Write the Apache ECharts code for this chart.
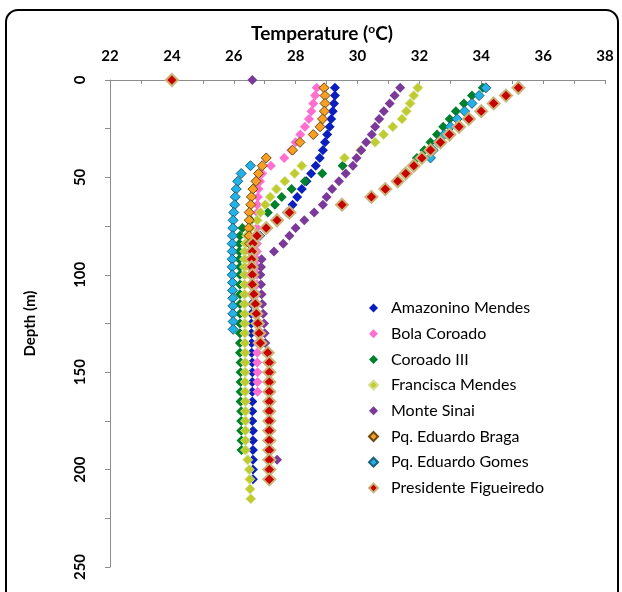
<!DOCTYPE html>
<html>
<head>
<meta charset="utf-8">
<script src="https://cdn.jsdelivr.net/npm/echarts@6/dist/echarts.min.js"></script>
<style>
  html, body { margin: 0; padding: 0; background: #fff; }
  #chart { width: 622px; height: 592px; }
</style>
</head>
<body>
<div id="chart"></div>
<script>
// Temperature profiles: each entry is [depth (m), temperature (°C)]
const amazoninoMendes = [
  [4,29.27],[8,29.27],[12,29.24],[16,29.2],[20,29.15],[24,29.1],[28,29.02],[32,28.95],[36,28.88],
  [40,28.78],[44,28.65],[48,28.5],[52,28.35],[56,28.2],[60,28.05],[64,27.9],[68,27.72],[72,27.4],
  [76,27.1],[80,26.85],[84,26.7],[88,26.65],[92,26.62],[96,26.6],[100,26.6],[105,26.6],[110,26.58],
  [115,26.58],[120,26.57],[125,26.57],[130,26.57],[135,26.58],[140,26.58],[145,26.6],[150,26.6],
  [155,26.6],[160,26.6],[165,26.6],[170,26.6],[175,26.6],[180,26.62],[185,26.62],[190,26.62],
  [195,26.62],[200,26.62],[205,26.62]
];
const bolaCoroado = [
  [4,28.68],[8,28.63],[12,28.57],[16,28.51],[20,28.43],[24,28.3],[28,28.15],[32,28.0],[36,27.86],
  [40,27.63],[44,27.2],[48,26.92],[52,26.85],[56,26.8],[60,26.78],[64,26.76],[68,26.76],[72,26.75],
  [76,26.75],[80,26.75],[84,26.75],[88,26.75],[92,26.75],[96,26.75],[100,26.75],[105,26.75],
  [110,26.75],[115,26.75],[120,26.75],[125,26.75],[130,26.76],[135,26.76],[140,26.76],[145,26.76],
  [150,26.77],[155,26.77],[160,26.77]
];
const coroadoIII = [
  [4,34.05],[8,33.7],[12,33.44],[16,33.18],[20,32.98],[24,32.77],[28,32.57],[32,32.36],[36,32.16],
  [40,31.92],[44,29.52],[48,28.86],[52,28.3],[56,27.87],[60,27.55],[64,27.33],[68,27.1],[72,26.55],
  [76,26.28],[80,26.2],[84,26.18],[88,26.18],[92,26.18],[96,26.2],[100,26.2],[105,26.2],[110,26.2],
  [115,26.2],[120,26.2],[125,26.2],[130,26.2],[135,26.2],[140,26.2],[145,26.22],[150,26.22],
  [155,26.22],[160,26.22],[165,26.22],[170,26.24],[175,26.24],[180,26.24],[185,26.25],[190,26.25]
];
const franciscaMendes = [
  [4,31.95],[8,31.82],[12,31.7],[16,31.58],[20,31.44],[24,31.14],[28,30.84],[32,30.57],[36,30.1],
  [40,29.58],[44,28.2],[48,27.97],[52,27.65],[56,27.38],[60,27.18],[64,27.02],[68,26.86],[72,26.76],
  [76,26.55],[80,26.42],[84,26.38],[88,26.36],[92,26.35],[96,26.35],[100,26.35],[105,26.35],
  [110,26.35],[115,26.35],[120,26.36],[125,26.36],[130,26.36],[135,26.36],[140,26.37],[145,26.37],
  [150,26.37],[155,26.37],[160,26.37],[165,26.38],[170,26.38],[175,26.38],[180,26.38],[185,26.38],
  [190,26.38],[195,26.45],[200,26.5],[205,26.52],[210,26.53],[215,26.55]
];
const monteSinai = [
  [0,26.6],[4,31.38],[8,31.2],[12,31.04],[16,30.85],[20,30.7],[24,30.57],[28,30.46],[32,30.28],
  [36,30.12],[40,29.97],[44,29.85],[48,29.62],[52,29.4],[56,29.18],[60,29.0],[64,28.88],[68,28.6],
  [72,28.28],[76,28.0],[80,27.8],[84,27.6],[88,27.3],[92,26.9],[96,26.88],[100,26.86],[105,26.88],
  [110,26.9],[115,26.92],[120,26.95],[125,26.98],[130,27.0],[135,27.02],[140,27.08],[145,27.1],
  [150,27.1],[155,27.12],[160,27.12],[165,27.12],[170,27.14],[175,27.14],[180,27.15],[185,27.15],
  [190,27.15],[195,27.4]
];
const pqEduardoBraga = [
  [4,28.92],[8,28.95],[12,28.95],[16,28.93],[20,28.87],[24,28.79],[28,28.57],[32,28.14],[36,27.9],
  [40,27.05],[44,26.92],[48,26.8],[52,26.72],[56,26.62],[60,26.57],[64,26.55],[68,26.5],[72,26.5],
  [76,26.48],[80,26.5],[84,26.52],[88,26.55]
];
const pqEduardoGomes = [
  [4,34.15],[8,33.93],[12,33.7],[16,33.46],[20,33.22],[24,33.0],[28,32.8],[32,32.6],[36,32.45],
  [40,32.36],[44,26.54],[48,26.24],[52,26.13],[56,26.08],[60,26.05],[64,26.03],[68,26.0],[72,25.98],
  [76,25.97],[80,25.96],[84,25.95],[88,25.95],[92,25.95],[96,25.95],[100,25.95],[104,25.96],
  [108,25.96],[112,25.97],[116,25.97],[120,25.97],[124,25.98],[128,25.98]
];
const presidenteFigueiredo = [
  [0,24.0],[4,35.2],[8,34.8],[12,34.4],[16,34.0],[20,33.6],[24,33.28],[28,32.97],[32,32.68],
  [36,32.36],[40,32.08],[44,31.82],[48,31.56],[52,31.3],[56,30.9],[60,30.45],[64,29.5],[68,27.8],
  [72,27.4],[76,27.05],[80,26.75],[84,26.62],[88,26.6],[92,26.58],[96,26.58],[100,26.6],[105,26.6],
  [110,26.65],[115,26.7],[120,26.73],[125,26.78],[130,26.82],[135,26.86],[140,27.1],[145,27.15],
  [150,27.15],[155,27.15],[160,27.15],[165,27.15],[170,27.15],[175,27.15],[180,27.15],[185,27.15],
  [190,27.15],[195,27.15],[200,27.15],[205,27.15]
];

const tempTicks = [22, 24, 26, 28, 30, 32, 34, 36, 38];
const depthTicks = [0, 50, 100, 150, 200, 250];

const FONT = 'Lato, "Liberation Sans", sans-serif';
const AXIS_GREY = '#8c8c8c';

const seriesDefs = [
  { name: 'Amazonino Mendes', data: amazoninoMendes, color: '#0a1fbd', size: 10 },
  { name: 'Bola Coroado', data: bolaCoroado, color: '#ff6fd0', size: 10 },
  { name: 'Coroado III', data: coroadoIII, color: '#00802b', size: 10 },
  { name: 'Francisca Mendes', data: franciscaMendes, color: '#bfcc2e', size: 10, border: '#d8e090', bw: 1 },
  { name: 'Monte Sinai', data: monteSinai, color: '#7b3a9a', size: 10 },
  { name: 'Pq. Eduardo Braga', data: pqEduardoBraga, color: '#f9a024', size: 10, border: '#6b4a10', bw: 1 },
  { name: 'Pq. Eduardo Gomes', data: pqEduardoGomes, color: '#22b2e8', size: 10, border: '#1d5f7a', bw: 1 },
  { name: 'Presidente Figueiredo', data: presidenteFigueiredo, color: '#c80000', size: 12, border: '#c9b47a', bw: 2 }
];

const chart = echarts.init(document.getElementById('chart'), null, { renderer: 'canvas' });

chart.setOption({
  animation: false,
  backgroundColor: '#ffffff',
  title: {
    text: '{t|Temperature (}{s|o}{t|C)}',
    left: 317,
    top: 18,
    textAlign: 'center',
    textStyle: {
      rich: {
        t: { fontFamily: FONT, fontWeight: 'bold', fontSize: 19, color: '#000', lineHeight: 21 },
        s: { fontFamily: FONT, fontWeight: 'bold', fontSize: 12, color: '#000', verticalAlign: 'top', lineHeight: 21 }
      }
    }
  },
  graphic: [{
    type: 'rect',
    shape: { x: 6, y: 10, width: 612, height: 610, r: 12 },
    style: { fill: null, stroke: '#000', lineWidth: 2 },
    silent: true,
    z: 100
  }],
  legend: {
    orient: 'vertical',
    left: 363,
    top: 295,
    icon: 'diamond',
    itemWidth: 9,
    itemHeight: 9,
    itemGap: 9.7,
    textStyle: { fontFamily: FONT, fontSize: 16, color: '#000', lineHeight: 16, padding: [0, 0, 0, 8] },
    data: seriesDefs.map(s => s.name)
  },
  grid: { left: 110, right: 17, top: 80, bottom: 25 },
  xAxis: {
    type: 'value',
    position: 'top',
    min: 22, max: 38, interval: 2,
    axisLine: { show: true, lineStyle: { color: AXIS_GREY, width: 1 } },
    axisTick: { show: true, inside: true, length: 4, lineStyle: { color: AXIS_GREY } },
    minorTick: { show: true, splitNumber: 2, length: 4, lineStyle: { color: AXIS_GREY } },
    splitLine: { show: false },
    axisLabel: {
      margin: 16,
      fontFamily: FONT, fontWeight: 'bold', fontSize: 15, color: '#000',
      formatter: v => (tempTicks.indexOf(v) >= 0 ? String(v) : '')
    }
  },
  yAxis: {
    type: 'value',
    inverse: true,
    min: 0, max: 250, interval: 50,
    name: 'Depth (m)',
    nameLocation: 'middle',
    nameGap: 72,
    nameRotate: 90,
    nameTextStyle: { fontFamily: FONT, fontWeight: 'bold', fontSize: 15, color: '#000' },
    axisLine: { show: true, lineStyle: { color: AXIS_GREY, width: 1 } },
    axisTick: { show: true, inside: false, length: 5, lineStyle: { color: AXIS_GREY } },
    minorTick: { show: true, splitNumber: 2, length: 5, lineStyle: { color: AXIS_GREY } },
    splitLine: { show: false },
    axisLabel: {
      rotate: 90,
      margin: 22,
      fontFamily: FONT, fontWeight: 'bold', fontSize: 15, color: '#000',
      formatter: v => (depthTicks.indexOf(v) >= 0 ? String(v) : '')
    }
  },
  series: seriesDefs.map(s => ({
    name: s.name,
    type: 'scatter',
    symbol: 'diamond',
    symbolSize: s.size,
    clip: false,
    itemStyle: {
      color: s.color,
      borderColor: s.border || s.color,
      borderWidth: s.bw || 0,
      opacity: 1
    },
    data: s.data.map(p => [p[1], p[0]])
  }))
});
</script>
</body>
</html>
